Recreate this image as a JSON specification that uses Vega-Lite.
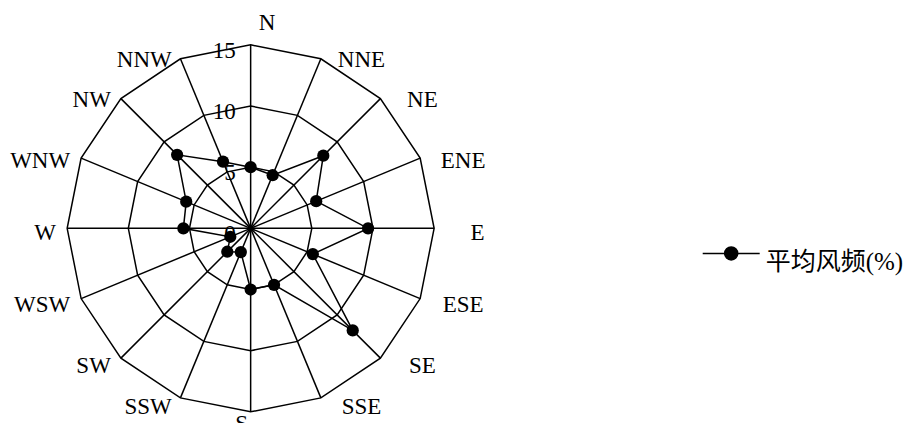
{
  "$schema": "https://vega.github.io/schema/vega-lite/v6.json",
  "width": 903,
  "height": 423,
  "padding": 0,
  "autosize": {"type": "none"},
  "background": "white",
  "config": {"view": {"stroke": null}},
  "datasets": {
    "dirs": [
      {"dir": "N", "i": 0}, {"dir": "NNE", "i": 1}, {"dir": "NE", "i": 2}, {"dir": "ENE", "i": 3},
      {"dir": "E", "i": 4}, {"dir": "ESE", "i": 5}, {"dir": "SE", "i": 6}, {"dir": "SSE", "i": 7},
      {"dir": "S", "i": 8}, {"dir": "SSW", "i": 9}, {"dir": "SW", "i": 10}, {"dir": "WSW", "i": 11},
      {"dir": "W", "i": 12}, {"dir": "WNW", "i": 13}, {"dir": "NW", "i": 14}, {"dir": "NNW", "i": 15}
    ],
    "wind": [
      {"dir": "N", "i": 0, "freq": 5.0}, {"dir": "NNE", "i": 1, "freq": 4.7}, {"dir": "NE", "i": 2, "freq": 8.4},
      {"dir": "ENE", "i": 3, "freq": 5.8}, {"dir": "E", "i": 4, "freq": 9.6}, {"dir": "ESE", "i": 5, "freq": 5.5},
      {"dir": "SE", "i": 6, "freq": 11.8}, {"dir": "SSE", "i": 7, "freq": 5.0}, {"dir": "S", "i": 8, "freq": 5.0},
      {"dir": "SSW", "i": 9, "freq": 2.1}, {"dir": "SW", "i": 10, "freq": 2.7}, {"dir": "WSW", "i": 11, "freq": 1.8},
      {"dir": "W", "i": 12, "freq": 5.5}, {"dir": "WNW", "i": 13, "freq": 5.7}, {"dir": "NW", "i": 14, "freq": 8.5},
      {"dir": "NNW", "i": 15, "freq": 5.9}
    ],
    "levels": [{"level": 0}, {"level": 5}, {"level": 10}, {"level": 15}]
  },
  "layer": [
    {
      "data": {"name": "dirs"},
      "transform": [
        {"calculate": "[5, 10, 15]", "as": "level"},
        {"flatten": ["level"]},
        {"calculate": "datum.level * sin(datum.i * PI / 8)", "as": "x"},
        {"calculate": "datum.level * cos(datum.i * PI / 8)", "as": "y"}
      ],
      "mark": {"type": "line", "interpolate": "linear-closed", "color": "black", "strokeWidth": 1.5},
      "encoding": {
        "x": {"field": "x", "type": "quantitative", "scale": {"domain": [-20.49, 53.33], "nice": false, "zero": false}, "axis": null},
        "y": {"field": "y", "type": "quantitative", "scale": {"domain": [-15.912, 18.667], "nice": false, "zero": false}, "axis": null},
        "detail": {"field": "level", "type": "nominal"},
        "order": {"field": "i", "type": "quantitative"}
      }
    },
    {
      "data": {"name": "dirs"},
      "transform": [
        {"calculate": "15 * sin(datum.i * PI / 8)", "as": "x15"},
        {"calculate": "15 * cos(datum.i * PI / 8)", "as": "y15"},
        {"calculate": "0", "as": "zero"}
      ],
      "mark": {"type": "rule", "color": "black", "strokeWidth": 1.5},
      "encoding": {
        "x": {"field": "zero", "type": "quantitative", "scale": {"domain": [-20.49, 53.33], "nice": false, "zero": false}, "axis": null},
        "y": {"field": "zero", "type": "quantitative", "scale": {"domain": [-15.912, 18.667], "nice": false, "zero": false}, "axis": null},
        "x2": {"field": "x15"},
        "y2": {"field": "y15"}
      }
    },
    {
      "data": {"name": "levels"},
      "transform": [{"calculate": "0", "as": "zero"}],
      "mark": {"type": "text", "align": "right", "baseline": "middle", "dx": -15, "dy": 6, "font": "Liberation Serif", "fontSize": 23, "color": "black"},
      "encoding": {
        "x": {"field": "zero", "type": "quantitative", "scale": {"domain": [-20.49, 53.33], "nice": false, "zero": false}, "axis": null},
        "y": {"field": "level", "type": "quantitative", "scale": {"domain": [-15.912, 18.667], "nice": false, "zero": false}, "axis": null},
        "text": {"field": "level", "type": "quantitative"}
      }
    },
    {
      "data": {"name": "dirs"},
      "transform": [
        {"filter": "datum.i >= 1 && datum.i <= 7"},
        {"calculate": "15.35 * sin(datum.i * PI / 8)", "as": "lx"},
        {"calculate": "15.35 * cos(datum.i * PI / 8)", "as": "ly"}
      ],
      "mark": {"type": "text", "align": "center", "baseline": "middle", "dx": 39, "dy": 4.7, "font": "Liberation Serif", "fontSize": 23, "color": "black"},
      "encoding": {
        "x": {"field": "lx", "type": "quantitative", "scale": {"domain": [-20.49, 53.33], "nice": false, "zero": false}, "axis": null},
        "y": {"field": "ly", "type": "quantitative", "scale": {"domain": [-15.912, 18.667], "nice": false, "zero": false}, "axis": null},
        "text": {"field": "dir", "type": "nominal"}
      }
    },
    {
      "data": {"name": "dirs"},
      "transform": [
        {"filter": "datum.i >= 9"},
        {"calculate": "15.35 * sin(datum.i * PI / 8)", "as": "lx"},
        {"calculate": "15.35 * cos(datum.i * PI / 8)", "as": "ly"}
      ],
      "mark": {"type": "text", "align": "right", "baseline": "middle", "dx": -7, "dy": 4.7, "font": "Liberation Serif", "fontSize": 23, "color": "black"},
      "encoding": {
        "x": {"field": "lx", "type": "quantitative", "scale": {"domain": [-20.49, 53.33], "nice": false, "zero": false}, "axis": null},
        "y": {"field": "ly", "type": "quantitative", "scale": {"domain": [-15.912, 18.667], "nice": false, "zero": false}, "axis": null},
        "text": {"field": "dir", "type": "nominal"}
      }
    },
    {
      "data": {"name": "dirs"},
      "transform": [
        {"filter": "datum.i == 0"},
        {"calculate": "15.35 * sin(datum.i * PI / 8)", "as": "lx"},
        {"calculate": "15.35 * cos(datum.i * PI / 8)", "as": "ly"}
      ],
      "mark": {"type": "text", "align": "center", "baseline": "middle", "dx": 16.5, "dy": -17.5, "font": "Liberation Serif", "fontSize": 23, "color": "black"},
      "encoding": {
        "x": {"field": "lx", "type": "quantitative", "scale": {"domain": [-20.49, 53.33], "nice": false, "zero": false}, "axis": null},
        "y": {"field": "ly", "type": "quantitative", "scale": {"domain": [-15.912, 18.667], "nice": false, "zero": false}, "axis": null},
        "text": {"field": "dir", "type": "nominal"}
      }
    },
    {
      "data": {"name": "dirs"},
      "transform": [
        {"filter": "datum.i == 8"},
        {"calculate": "15.35 * sin(datum.i * PI / 8)", "as": "lx"},
        {"calculate": "15.35 * cos(datum.i * PI / 8)", "as": "ly"}
      ],
      "mark": {"type": "text", "align": "center", "baseline": "middle", "dx": -9, "dy": 7.5, "font": "Liberation Serif", "fontSize": 23, "color": "black"},
      "encoding": {
        "x": {"field": "lx", "type": "quantitative", "scale": {"domain": [-20.49, 53.33], "nice": false, "zero": false}, "axis": null},
        "y": {"field": "ly", "type": "quantitative", "scale": {"domain": [-15.912, 18.667], "nice": false, "zero": false}, "axis": null},
        "text": {"field": "dir", "type": "nominal"}
      }
    },
    {
      "data": {"name": "wind"},
      "transform": [
        {"calculate": "datum.freq * sin(datum.i * PI / 8)", "as": "px"},
        {"calculate": "datum.freq * cos(datum.i * PI / 8)", "as": "py"},
        {"calculate": "'平均风频(%)'", "as": "series"}
      ],
      "mark": {"type": "line", "interpolate": "linear-closed", "strokeWidth": 1.5},
      "encoding": {
        "x": {"field": "px", "type": "quantitative", "scale": {"domain": [-20.49, 53.33], "nice": false, "zero": false}, "axis": null},
        "y": {"field": "py", "type": "quantitative", "scale": {"domain": [-15.912, 18.667], "nice": false, "zero": false}, "axis": null},
        "color": {"field": "series", "type": "nominal", "scale": {"range": ["black"]}},
        "order": {"field": "i", "type": "quantitative"}
      }
    },
    {
      "data": {"name": "wind"},
      "transform": [
        {"calculate": "datum.freq * sin(datum.i * PI / 8)", "as": "px"},
        {"calculate": "datum.freq * cos(datum.i * PI / 8)", "as": "py"},
        {"calculate": "'平均风频(%)'", "as": "series"}
      ],
      "mark": {"type": "point", "shape": "circle", "filled": true, "size": 150, "opacity": 1},
      "encoding": {
        "x": {"field": "px", "type": "quantitative", "scale": {"domain": [-20.49, 53.33], "nice": false, "zero": false}, "axis": null},
        "y": {"field": "py", "type": "quantitative", "scale": {"domain": [-15.912, 18.667], "nice": false, "zero": false}, "axis": null},
        "color": {
          "field": "series",
          "type": "nominal",
          "scale": {"range": ["black"]},
          "legend": {
            "orient": "none",
            "legendX": 701.7,
            "legendY": 220,
            "title": null,
            "padding": 0,
            "symbolType": "M-1,0.14H1M-0.228,0.14A0.228,0.228,0,1,1,0.228,0.14A0.228,0.228,0,1,1,-0.228,0.14Z",
            "symbolSize": 3249,
            "symbolStrokeColor": "black",
            "symbolStrokeWidth": 1.5,
            "symbolFillColor": "black",
            "labelFont": "Liberation Serif, Noto Sans CJK SC",
            "labelFontSize": 25,
            "labelColor": "black",
            "labelBaseline": "top",
            "labelOffset": 5,
            "labelLimit": 300,
            "encode": {
              "symbols": {"update": {"stroke": {"value": "black"}, "strokeWidth": {"value": 1.5}, "fill": {"value": "black"}, "opacity": {"value": 1}, "strokeOpacity": {"value": 1}}}
            }
          }
        }
      }
    }
  ]
}
